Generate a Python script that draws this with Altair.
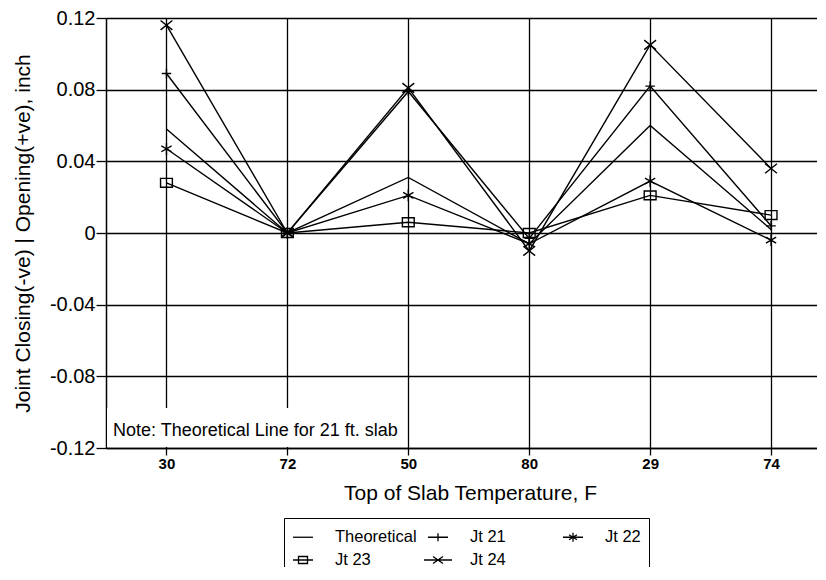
import json
import altair as alt
import pandas as pd

# ---- data ----
temps = ["30", "72", "50", "80", "29", "74"]
series_names = ["Theoretical", "Jt 21", "Jt 22", "Jt 23", "Jt 24"]
theoretical = [0.058, 0.000, 0.031, -0.006, 0.060, 0.002]
jt21 = [0.089, 0.000, 0.079, -0.003, 0.082, 0.004]
jt22 = [0.047, 0.000, 0.021, -0.006, 0.029, -0.004]
jt23 = [0.028, 0.000, 0.006, 0.000, 0.021, 0.010]
jt24 = [0.116, 0.000, 0.081, -0.010, 0.105, 0.036]
y_ticks = [-0.12, -0.08, -0.04, 0, 0.04, 0.08, 0.12]
note_text = "Note: Theoretical Line for 21 ft. slab"

# legend fills column by column: this order gives rows
# "Theoretical, Jt 21, Jt 22" / "Jt 23, Jt 24"
legend_order = ["Theoretical", "Jt 23", "Jt 21", "Jt 24", "Jt 22"]

# marker glyphs (plot) and legend glyphs (line + marker)
marker_glyph = {
    "Jt 21": "M-0.8,0L0.8,0M0,-0.8L0,0.8",
    "Jt 22": "M0,-1L0,1M-0.87,-0.5L0.87,0.5M-0.87,0.5L0.87,-0.5",
    "Jt 23": "M-1,-0.75L1,-0.75L1,0.75L-1,0.75Z",
    "Jt 24": "M-1,-0.8L1,0.8M-1,0.8L1,-0.8",
}
legend_glyph = {
    "Theoretical": "M-1,0L1,0",
    "Jt 21": "M-1,0L1,0M0,-0.4L0,0.4",
    "Jt 22": "M-1,0L1,0M0,-0.45L0,0.45M-0.4,-0.25L0.4,0.25M-0.4,0.25L0.4,-0.25",
    "Jt 23": "M-1,0L1,0M-0.45,-0.35L0.45,-0.35L0.45,0.35L-0.45,0.35Z",
    "Jt 24": "M-1.4,0L1.4,0M-0.5,-0.35L0.5,0.35M-0.5,0.35L0.5,-0.35",
}
marker_series = ["Jt 21", "Jt 22", "Jt 23", "Jt 24"]

values = [theoretical, jt21, jt22, jt23, jt24]
rows = []
for name, vals in zip(series_names, values):
    for i, (t, v) in enumerate(zip(temps, vals)):
        rows.append({"series": name, "marker": name, "idx": i, "temp": t, "value": v})
df = pd.DataFrame(rows)
df_markers = df[df["series"] != "Theoretical"]

FONT = "Liberation Sans"

x_enc = alt.X(
    "idx:Q",
    scale=alt.Scale(domain=[-0.5, 5.38], nice=False, zero=False),
    axis=alt.Axis(
        values=list(range(len(temps))),
        labelExpr=json.dumps(temps) + "[datum.value]",
        title="Top of Slab Temperature, F",
        titleFontSize=21,
        titleFontWeight="normal",
        titlePadding=11,
        titleX=364,
        labelFontSize=15,
        labelFontWeight="bold",
        labelPadding=1,
        tickSize=7,
        grid=True,
    ),
)
y_enc = alt.Y(
    "value:Q",
    scale=alt.Scale(domain=[-0.12, 0.12], nice=False, zero=False),
    axis=alt.Axis(
        values=y_ticks,
        labelExpr="datum.value == 0 ? '0' : replace(format(datum.value, '.2f'), '\u2212', '-')",
        title="Joint Closing(-ve) | Opening(+ve), inch",
        titleFontSize=21,
        titleFontWeight="normal",
        titlePadding=16,
        labelFontSize=20,
        labelPadding=1,
        tickSize=10,
        grid=True,
    ),
)

note_df = pd.DataFrame({"note": [note_text]})
note_bg = alt.Chart(note_df).mark_rect(color="white").encode(
    x=alt.value(1), x2=alt.value(296), y=alt.value(390), y2=alt.value(429)
)

lines = alt.Chart(df).mark_line(color="black", strokeWidth=1.4).encode(
    x=x_enc, y=y_enc, detail="series:N", order="idx:Q"
)

markers = alt.Chart(df_markers).mark_point(
    color="black", filled=False, strokeWidth=1.4, size=140, opacity=1
).encode(
    x="idx:Q",
    y="value:Q",
    shape=alt.Shape(
        "marker:N",
        scale=alt.Scale(domain=marker_series, range=[marker_glyph[s] for s in marker_series]),
        legend=None,
    ),
)

legend_layer = alt.Chart(df).mark_point(
    color="black", filled=False, strokeWidth=1.3, size=400, opacity=0
).encode(
    x="idx:Q",
    y="value:Q",
    shape=alt.Shape(
        "series:N",
        scale=alt.Scale(domain=legend_order, range=[legend_glyph[s] for s in legend_order]),
        legend=alt.Legend(
            title=None,
            orient="none",
            legendX=178,
            legendY=500,
            columns=3,
            gridAlign="all",
            columnPadding=4,
            rowPadding=3,
            padding=8,
            strokeColor="black",
            symbolSize=400,
            symbolOpacity=1,
            symbolStrokeColor="black",
            symbolStrokeWidth=1.3,
            symbolFillColor="transparent",
            labelFont=FONT,
            labelFontSize=16.5,
            labelColor="black",
            labelOffset=21,
        ),
    ),
)

note = alt.Chart(note_df).mark_text(
    align="left", baseline="alphabetic", fontSize=18, font=FONT, color="black"
).encode(x=alt.value(7), y=alt.value(418), text="note:N")

chart = (
    alt.layer(note_bg, lines, markers, legend_layer, note)
    .resolve_scale(shape="independent")
    .properties(
        width=711,
        height=430,
        autosize=alt.AutoSizeParams(type="none"),
        padding={"left": 98, "top": 10, "right": 0, "bottom": 119},
        background="white",
    )
    .configure_view(stroke="transparent")
    .configure_axis(
        labelFont=FONT,
        titleFont=FONT,
        labelColor="black",
        titleColor="black",
        gridColor="black",
        gridOpacity=1,
        gridWidth=1.3,
        domainColor="black",
        domainWidth=1.5,
        tickColor="black",
        tickWidth=1.3,
    )
)

chart.save("out.html", embed_options={"renderer": "svg", "actions": False})
